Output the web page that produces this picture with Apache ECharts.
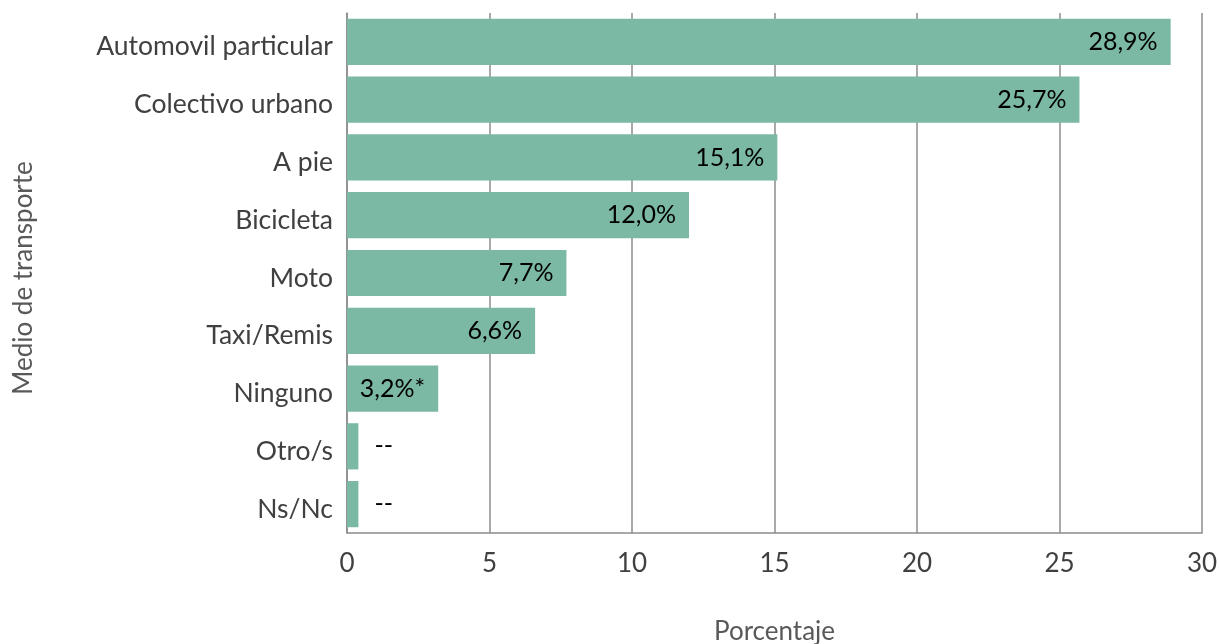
<!DOCTYPE html>
<html><head><meta charset="utf-8">
<script src="https://cdn.jsdelivr.net/npm/echarts@6/dist/echarts.min.js"></script>
<style>html,body{margin:0;padding:0;background:#fff}#c{width:1219px;height:644px}</style>
</head><body><div id="c"></div>
<script>
const categories = ["Automovil particular","Colectivo urbano","A pie","Bicicleta","Moto","Taxi/Remis","Ninguno","Otro/s","Ns/Nc"];
const values = [28.9, 25.7, 15.1, 12.0, 7.7, 6.6, 3.2, 0.4, 0.4];
const labels = ["28,9%","25,7%","15,1%","12,0%","7,7%","6,6%","3,2%*","--","--"];
const xTicks = [0, 5, 10, 15, 20, 25, 30];

const chart = echarts.init(document.getElementById('c'));
const F = 'Lato, "Noto Sans", sans-serif';
const data = values.map((v, i) => ({
  value: v,
  label: i >= 7 ? {position: 'right', distance: 16} : {position: 'insideRight', distance: 13}
}));
chart.setOption({
  animation: false,
  grid: {left: 347, right: 17, top: 13, bottom: 111, containLabel: false, outerBoundsMode: 'none'},
  xAxis: {
    type: 'value', min: xTicks[0], max: xTicks[xTicks.length-1], interval: 5,
    name: 'Porcentaje', nameLocation: 'middle', nameGap: 86,
    nameTextStyle: {fontFamily: F, fontSize: 26, color: '#595959'},
    axisLine: {show: true, lineStyle: {color: '#8c8c8c', width: 1.5}},
    axisTick: {show: false},
    axisLabel: {fontFamily: F, fontSize: 26, color: '#404040', margin: 18},
    splitLine: {show: true, lineStyle: {color: '#8c8c8c', width: 1.5}}
  },
  yAxis: {
    type: 'category', data: categories, inverse: true,
    name: 'Medio de transporte', nameLocation: 'middle', nameGap: 310, nameRotate: 90,
    nameTextStyle: {fontFamily: F, fontSize: 26, color: '#595959', padding: [0, 10, 0, 0]},
    axisLine: {show: true, lineStyle: {color: '#8c8c8c', width: 1.5}},
    axisTick: {show: false},
    axisLabel: {fontFamily: F, fontSize: 26.5, color: '#404040', margin: 14, verticalAlign: 'top', lineHeight: 10}
  },
  series: [{
    type: 'bar', data: data, barCategoryGap: '20%',
    itemStyle: {color: '#7bb9a5'},
    label: {
      show: true, fontFamily: F, fontSize: 25, color: '#000',
      formatter: p => labels[p.dataIndex]
    }
  }]
});
</script></body></html>
